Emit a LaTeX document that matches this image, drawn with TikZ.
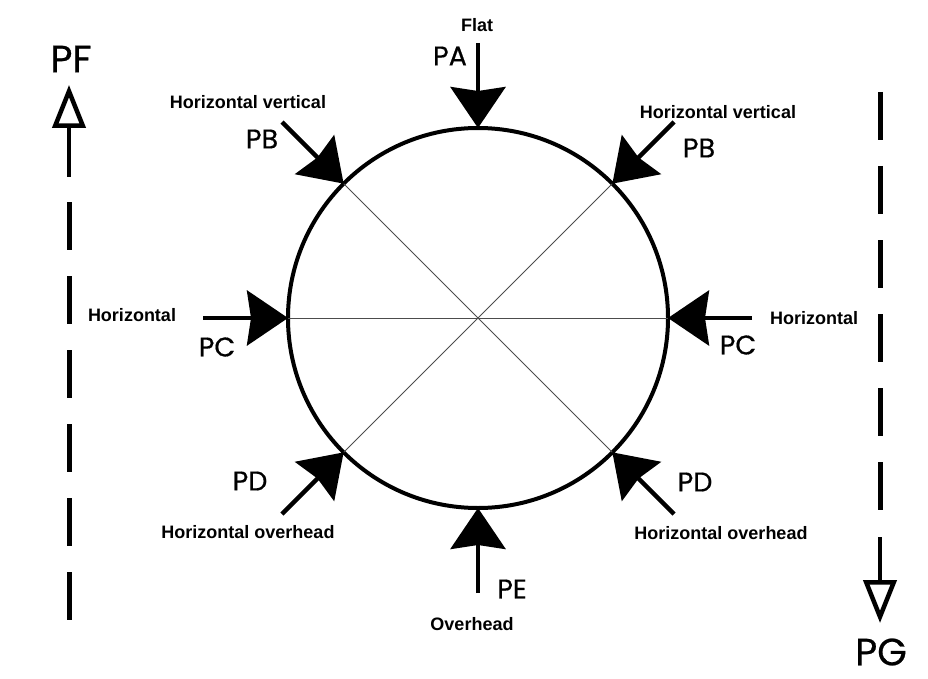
\documentclass[tikz,border=0pt]{standalone}
\usepackage{fontspec}
\setmainfont{Liberation Sans}
\newfontfamily\geofont{Poppins}[FakeBold=0.6]
\usetikzlibrary{arrows.meta}

\tikzset{
  small label/.style={font=\bfseries\fontsize{18}{20}\selectfont, inner sep=0pt},
  big label/.style={font=\geofont\fontsize{27}{29}\selectfont, inner sep=0pt},
  huge label/.style={font=\geofont\fontsize{38}{42}\selectfont, inner sep=0pt},
  push/.style={line width=4.5pt, -{Stealth[length=41pt,width=55pt,inset=4pt]}},
  flow/.style={line width=4.5pt, -{Triangle[open,length=43pt,width=33pt]}},
  gap line/.style={line width=5pt, dash pattern=on 48pt off 26pt},
}

\begin{document}
\begin{tikzpicture}[x=1pt,y=-1pt]
  \useasboundingbox (0,0) rectangle (928,679);

  % Pipe section with its cross lines
  \node[draw, circle, line width=4pt, minimum size=380pt, inner sep=0pt, outer sep=0pt] (ring) at (478,318) {};
  \draw[line width=0.8pt, black!70] (ring.west) -- (ring.east);
  \draw[line width=0.8pt, black!70] (ring.135) -- (ring.-45);
  \draw[line width=0.8pt, black!70] (ring.45) -- (ring.-135);

  % Welding positions pushing onto the pipe
  \foreach \px/\py/\spot in {478/43/90, 282/122/135, 674/122/45, 203/318/180,
                             752/318/0, 282/514/-135, 674/514/-45, 478/593/-90}
  {
    \coordinate (t\spot) at (\px,\py);
    \draw[push] (t\spot) -- (ring.\spot);
  }

  % Progression lines at the sides
  \coordinate (pf-low) at (69,177);
  \coordinate (pf-top) at (69,85);
  \draw[flow] (pf-low) -- (pf-top);
  \draw[gap line] (69,202) -- (69,620);
  \coordinate (pg-high) at (880,537);
  \coordinate (pg-tip) at (880,623);
  \draw[gap line] (880,92) -- (880,512);
  \draw[flow] (pg-high) -- (pg-tip);

  % Labels
  \node[huge label] (pf) at (71,59) {PF};
  \node[huge label] (pg) at (881,652) {PG};
  \node[small label] (flat) at (477,25) {Flat};
  \node[big label] (pa) at (450,56) {PA};
  \node[small label] (hv-left) at (248,102) {Horizontal vertical};
  \node[big label] (pb-left) at (262,139) {PB};
  \node[small label] (hv-right) at (718,112) {Horizontal vertical};
  \node[big label] (pb-right) at (699,148) {PB};
  \node[small label] (h-left) at (132,315) {Horizontal};
  \node[big label] (pc-left) at (217,347) {PC};
  \node[small label] (h-right) at (814,318) {Horizontal};
  \node[big label] (pc-right) at (738,345) {PC};
  \node[big label] (pd-left) at (250,481) {PD};
  \node[small label] (ho-left) at (248,532) {Horizontal overhead};
  \node[big label] (pd-right) at (695,482) {PD};
  \node[small label] (ho-right) at (721,533) {Horizontal overhead};
  \node[big label] (pe) at (512,589) {PE};
  \node[small label] (over) at (472,624) {Overhead};
\end{tikzpicture}
\end{document}
